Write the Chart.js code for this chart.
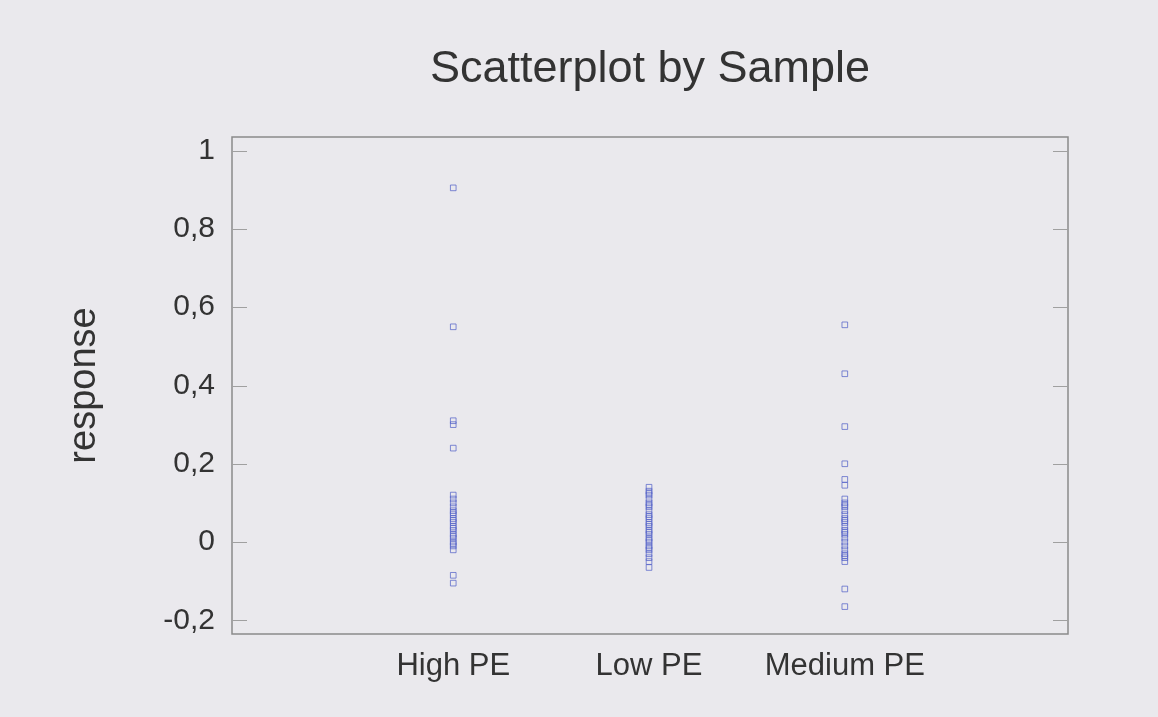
<!DOCTYPE html>
<html>
<head>
<meta charset="utf-8">
<script src="https://cdn.jsdelivr.net/npm/chart.js@4"></script>
<style>
  body { margin: 0; background: #eae9ed; }
  #wrap { width: 1158px; height: 717px; }
</style>
</head>
<body>
<div id="wrap"><canvas id="scatter"></canvas></div>
<script>
// ---------------- data ----------------
const categories = ['High PE', 'Low PE', 'Medium PE'];

const highPE = [0.905, 0.55, 0.31, 0.30, 0.24, 0.12, 0.11, 0.10, 0.09, 0.08, 0.075, 0.07,
    0.06, 0.055, 0.05, 0.04, 0.035, 0.03, 0.02, 0.015, 0.01, 0.0, -0.005, -0.01, -0.02,
    -0.085, -0.105];
const lowPE = [0.14, 0.13, 0.125, 0.12, 0.11, 0.10, 0.095, 0.09, 0.08, 0.07, 0.065, 0.06,
    0.05, 0.045, 0.04, 0.03, 0.025, 0.02, 0.01, 0.005, 0.0, -0.01, -0.015, -0.02, -0.03,
    -0.04, -0.05, -0.065];
const mediumPE = [0.555, 0.43, 0.295, 0.20, 0.16, 0.145, 0.11, 0.10, 0.095, 0.09, 0.08,
    0.07, 0.06, 0.055, 0.05, 0.04, 0.03, 0.025, 0.02, 0.01, 0.0, -0.01, -0.02, -0.03,
    -0.035, -0.04, -0.05, -0.12, -0.165];

const yTicks = [-0.2, 0, 0.2, 0.4, 0.6, 0.8, 1];

// ---------------- style ----------------
const FONT = "'Liberation Sans', Arial, sans-serif";
const TEXT = '#333333';
const FRAME = '#8a8a8a';
const MARK = 'rgba(85, 100, 200, 0.75)';

const groups = [highPE, lowPE, mediumPE];
const points = [];
groups.forEach((vals, i) => vals.forEach(v => points.push({ x: i + 1, y: v })));

// box round the plot area, with short inner ticks on both sides
const framePlugin = {
    id: 'frame',
    beforeDatasetsDraw(chart) {
        const { ctx, chartArea: a, scales: { y } } = chart;
        ctx.save();
        ctx.strokeStyle = FRAME;
        ctx.lineWidth = 1.5;
        ctx.strokeRect(a.left, a.top, a.right - a.left, a.bottom - a.top);
        ctx.lineWidth = 1;
        ctx.strokeStyle = '#a0a0a0';
        y.ticks.forEach(t => {
            const py = Math.round(y.getPixelForValue(t.value)) + 0.5;
            ctx.beginPath();
            ctx.moveTo(a.left, py);
            ctx.lineTo(a.left + 15, py);
            ctx.moveTo(a.right - 15, py);
            ctx.lineTo(a.right, py);
            ctx.stroke();
        });
        ctx.restore();
    }
};

new Chart(document.getElementById('scatter'), {
    type: 'scatter',
    data: {
        datasets: [{
            data: points,
            pointStyle: 'rect',
            pointRadius: 4,
            pointBorderWidth: 1,
            pointBorderColor: MARK,
            pointBackgroundColor: 'transparent'
        }]
    },
    options: {
        responsive: true,
        maintainAspectRatio: false,
        animation: false,
        layout: { padding: { left: 62, right: 90, top: 0, bottom: 0 } },
        plugins: {
            legend: { display: false },
            tooltip: { enabled: false },
            title: {
                display: true,
                fullSize: false,
                text: 'Scatterplot by Sample',
                color: TEXT,
                font: { family: FONT, size: 45, weight: 'normal' },
                padding: { top: 43, bottom: 40 }
            }
        },
        scales: {
            x: {
                type: 'linear',
                min: -0.13,
                max: 4.14,
                grid: { display: false },
                border: { display: false },
                afterBuildTicks: s => { s.ticks = categories.map((c, i) => ({ value: i + 1 })); },
                afterFit: s => { s.height = 83; },
                ticks: {
                    padding: 6,
                    color: TEXT,
                    autoSkip: false,
                    maxRotation: 0,
                    font: { family: FONT, size: 31 },
                    callback: v => categories[v - 1] ?? ''
                }
            },
            y: {
                min: -0.235,
                max: 1.035,
                grid: { display: false },
                border: { display: false },
                afterBuildTicks: s => { s.ticks = yTicks.map(v => ({ value: v })); },
                afterFit: s => { s.width = 170; },
                ticks: {
                    padding: 9,
                    color: TEXT,
                    font: { family: FONT, size: 30 },
                    callback: v => String(Math.round(v * 10) / 10).replace('.', ',')
                },
                title: {
                    display: true,
                    text: 'response',
                    color: TEXT,
                    font: { family: FONT, size: 38 },
                    padding: 0
                }
            }
        }
    },
    plugins: [framePlugin]
});
</script>
</body>
</html>
